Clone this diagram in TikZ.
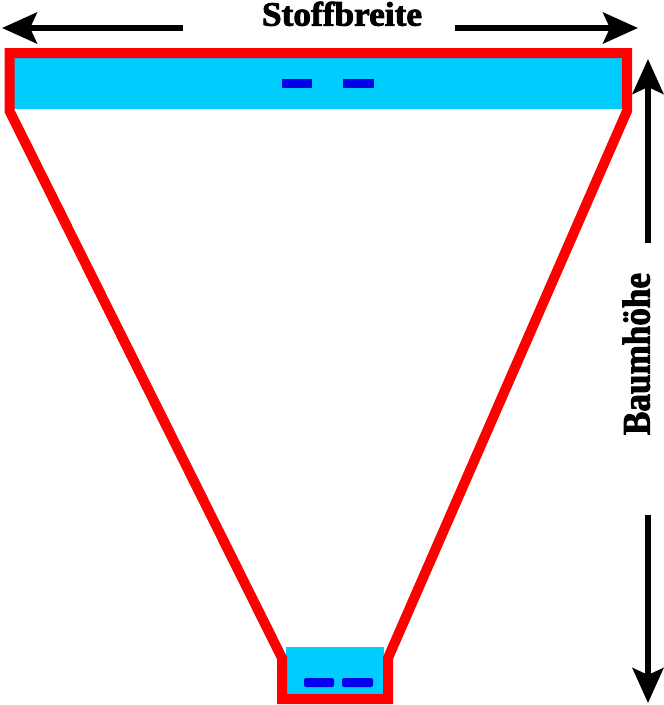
\documentclass[tikz,border=0pt]{standalone}
\usepackage{fontspec}
\usepackage{graphicx}
\setmainfont{Liberation Serif}
\newfontfamily\heavyfont[FakeBold=2.5]{Liberation Serif}
\usetikzlibrary{arrows.meta}
\definecolor{frame}{RGB}{255,0,0}
\definecolor{water}{RGB}{0,204,255}
\definecolor{mark}{RGB}{0,0,235}
\tikzset{
  outline/.style={draw=frame, line width=10pt, miter limit=10},
  fillbox/.style={fill=water, draw=none},
  dashmark/.style={fill=mark, draw=none},
  dimarrow/.style={line width=5.5pt, -{Stealth[length=35pt, width=31pt, inset=7pt]}},
  label/.style={inner sep=0pt, outer sep=0pt, font=\heavyfont\bfseries}
}
\begin{document}
\begin{tikzpicture}[x=1pt, y=-1pt]
\useasboundingbox (0,0) rectangle (664,705);
% fills
\fill[fillbox] (14,58) rectangle (622,109);
\fill[fillbox] (286,647) rectangle (384,694);
% marks
\fill[dashmark] (282,79) rectangle (312,88);
\fill[dashmark] (343,79) rectangle (374,88);
\fill[dashmark, rounded corners=2pt] (304,678) rectangle (334,687);
\fill[dashmark, rounded corners=2pt] (342,678) rectangle (373,687);
% outline
\draw[outline] (9.5,53) -- (627,53) -- (627,111) -- (388,658) -- (388,699) -- (282,699) -- (282,658) -- (9.5,111) -- cycle;
% arrows
\coordinate (lstart) at (183,28);
\coordinate (ltip) at (2,28);
\coordinate (rstart) at (455,28);
\coordinate (rtip) at (638,28);
\coordinate (ustart) at (648,243);
\coordinate (utip) at (648,59);
\coordinate (dstart) at (648,515);
\coordinate (dtip) at (648,703);
\draw[dimarrow] (lstart) -- (ltip);
\draw[dimarrow] (rstart) -- (rtip);
\draw[dimarrow] (ustart) -- (utip);
\draw[dimarrow] (dstart) -- (dtip);
% labels
\node[label, anchor=south west] (breite) at (262,26) {\resizebox{160pt}{24pt}{Stoffbreite}};
\node[label, anchor=south west, rotate=90] (hoehe) at (650,435) {\resizebox{162pt}{27pt}{Baumhöhe}};
\end{tikzpicture}
\end{document}
